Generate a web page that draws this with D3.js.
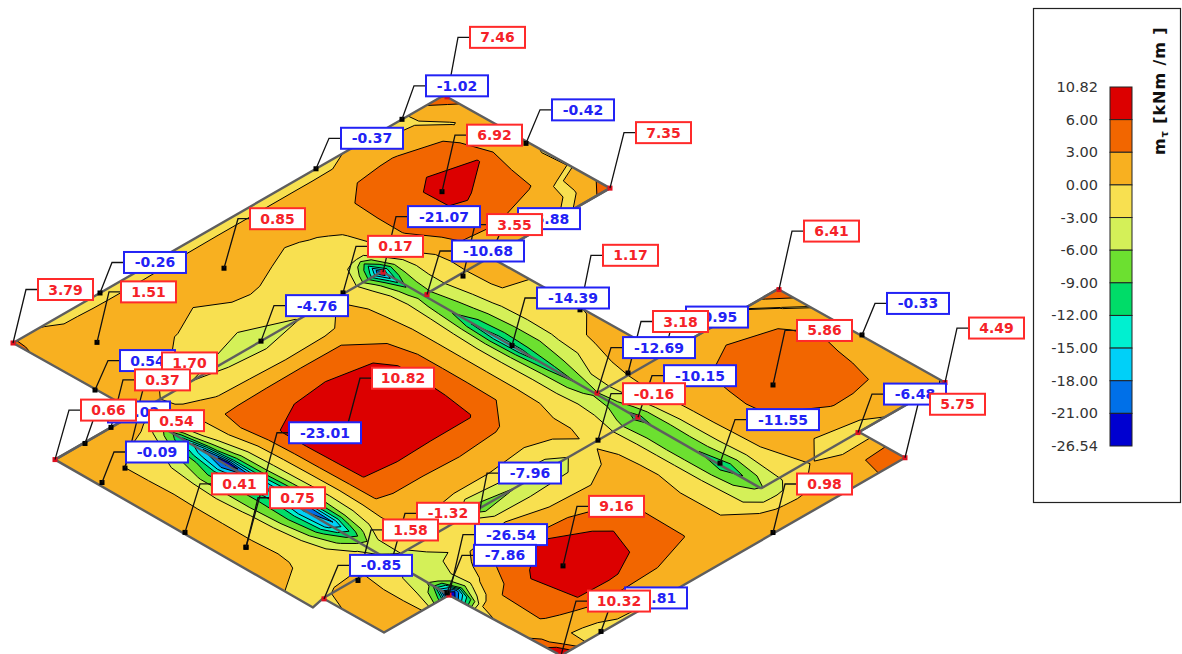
<!DOCTYPE html>
<html><head><meta charset="utf-8">
<style>html,body{margin:0;padding:0;background:#fff}svg{display:block}</style>
<script src="https://cdn.jsdelivr.net/npm/d3@7/dist/d3.min.js"></script>
</head><body><svg id="c" width="1182" height="654"></svg>
<script>
// ---- legend
const legendTicks=["10.82","6.00","3.00","0.00","-3.00","-6.00","-9.00","-12.00","-15.00","-18.00","-21.00","-26.54"];
const bandColors=["#DC0000","#F26600","#F8B020","#F8E050","#D4F058","#6CE030","#00DC68","#00F0D0","#00D0F8","#0070E8","#0000D0"];
const levels=[6,3,0,-3,-6,-9,-12,-15,-18,-21];
// ---- plate coordinates of the sampled moment field
const uKnots=[-90,-57,-35,-27,-15,-7,0,6,12,20,30,42,55,85,120,160,195,218,230,237,243,250,258,272,290,311,350,390,410,436];
const vKnots=[-5,10,30,50,75,100,124,136,150,166,190,215,240,265,295,320,340,358,382,405,425,443,470,510,535,558];
// ---- field values (kNm/m), one row per vKnot
const r00=[6,6,6,6,6,6,6,2,.5,-.2,-.3,-.4,-.4,-.4,-.4,-.4,-.4,-.4,-.4,-.4,-.4,-.4,-.4,-.4,-.4,-.3,.1,-1,3.5,9];
const r01=[4,4,4,4,4,4,3.5,2.4,1.5,1,.4,.03,.02,-.02,-.02,.02,.03,.03,.03,.03,.03,.03,.03,.03,.03,.03,.4,-.2,.5,5];
const r02=[3,3,3,3,3,3,2.2,2,1.9,1.8,1.7,1.6,1.5,1.4,1.2,1.3,1.4,1.3,1.2,1.2,1.2,1.2,1.2,1.3,1.7,2.8,3.1,2.2,-.1,1];
const r03=[2,2,2,2,2,2,1.9,1.8,1.8,1.8,1.8,1.7,1.5,.9,.2,.9,.5,.1,.2,.3,.4,.5,.6,1.5,2.9,4,5.3,3.8,1.5,1];
const r04=[1.8,1.8,1.8,1.8,1.8,1.8,1.8,1.7,1.7,1.6,1.4,1.1,.7,.05,-.3,.2,-.4,-.6,-.6,-.5,-.5,-.3,-.1,.9,3,5,6.6,6.1,2,.3];
const r05=[1.7,1.7,1.7,1.7,1.7,1.7,1.7,1.6,1.5,1.3,.9,.4,.05,-.8,-2.6,-1.8,-1,-1.4,-1.8,-2.2,-2.7,-2.9,-.8,.4,3.1,5.3,6.4,4.5,1,-.4];
const r06=[1.7,1.7,1.7,1.7,1.7,1.7,1.7,1.2,.7,.2,-.4,-1.5,-3,-4.2,-4.76,-3.1,-.4,-2.3,-8,-14,-21.07,-12,-5.5,-1,1.8,3.5,4.3,3.5,1,-.3];
const r07=[2.5,2.5,2.5,2.2,1.5,.5,-.5,.5,.8,.3,-.2,-.8,-1.7,-2,-2.5,-1,.3,-1.5,-5,-9,-14,-9,-5,-2,.5,3.1,3.6,.8,-.3,1.5];
const r08=[2.5,1,.3,-.3,-1.5,-4,-6,-3,-.8,.2,.5,.4,-.1,-.3,-.6,-.4,.8,-1,-3.5,-6.5,-9,-7,-4.5,-1.8,.2,2,2,.2,-.2,3.4];
const r09=[2.5,.1,-.8,-1.6,-4,-8,-11,-5,-2,-.5,.5,2.8,2.8,2.8,2.8,2.8,1.2,-1.1,-3.2,-5.5,-7,-6.3,-4.5,-1.7,.3,1,.8,-.2,.8,8];
const r10=[2.5,.3,-2.3,-4,-8,-14,-18,-8,-4,-1.5,1.2,4,4.4,5,5.5,5,2.1,-1.3,-3.5,-6.5,-8,-7.5,-5.5,-2.5,.3,.5,.5,.5,.5,.5];
const r11=[2.5,.5,-3,-6.3,-11,-18,-23.01,-11,-6.5,-3,0,3.4,6.2,9,10.82,7.5,2.2,-1.4,-4,-8,-12,-9,-6.5,-3.2,-.5,-.3,-.3,-.3,-.3,-.3];
const r12=[2.5,.3,-3.3,-6.3,-10,-15,-18,-11,-6.5,-3.2,-.2,3.2,6.3,8.5,10,7.4,2.2,-1.5,-4.5,-9,-13.8,-9.5,-7,-3.3,-1,-.3,-.3,-.3,-.3,-.3];
const r13=[2.2,.2,-3.1,-6.5,-10,-14,-16,-12,-7,-3.3,-.3,3.2,6.2,8.2,9,7,2.2,-1.6,-4.5,-8.5,-13.5,-9,-7,-3.2,-.8,.1,.1,.1,.1,.1];
const r14=[2,.1,-2.7,-6,-11,-17,-20,-12,-7,-3.5,-.3,3.1,6.1,6.5,6.3,6.3,2.2,-1.7,-4.2,-7.5,-10.5,-7.5,-5.5,-2.5,.5,1,1,1,1,1];
const r15=[1.5,.2,-2,-4.5,-10,-16,-18,-11,-6,-3,0,3.1,3.4,3.5,3.7,3.3,1.7,-1.6,-4.5,-7,-9,-6,-3,-.5,.8,.5,.5,.5,.5,.5];
const r16=[.9,-.1,-1.3,-3,-6.5,-9,-10.5,-7,-4,-2,.5,1.5,1.8,1.5,1.5,1.3,.5,-1.6,-4,-5.5,-6.5,-4.5,-2.5,-.2,1,1,1.5,-.1,3.5,7];
const r17=[.05,-.5,-.8,-1.3,-2.8,-4,-4.8,-3.2,-1.8,-.8,.2,.4,.3,-.2,-.2,-.8,.5,-1.8,-4.5,-6,-7,-5,-2.8,-.1,1.3,1.8,2.6,1.8,-.1,4.5];
const r18=[-.4,.1,.3,-.3,-1.5,-2,-2.5,-3,-3,-2.5,-1,-.5,-1.2,-7.96,-6,-4.6,-.4,-3,-6.8,-8.5,-10.15,-7,-3.5,-.3,1.5,2.8,4.5,3.5,1.5,-.1];
const r19=[-.8,.8,.1,-1,-3,-4,-5,-4.5,-4,-3.5,-3,-1,-.5,-.1,-1.5,-1.8,.9,-2.8,-6.3,-7.5,-8,-6.8,-4,-.5,2,3,5,4.6,2.5,.3];
const r20=[1.5,1.5,.1,-1.5,-4.5,-6.5,-6,-5,-3.2,-1.5,-.4,1,.8,.9,1.2,1,1.2,-2.8,-6.5,-7.5,-8,-6.5,-4,-.5,1.8,3.2,5,3.6,2.4,.3];
const r21=[2,2,.5,-3,-10,-26.54,-20,-8,-4,-.5,1,3.2,3.8,6.3,4.5,1.8,1.3,-2.8,-6.5,-8,-9,-6.5,-4,-.5,1.5,3.1,5,3.5,2,-.3];
const r22=[2,2,2,2,2,-1.5,.1,1,2,3.1,4,5.2,7,9.16,7,3.2,.3,-2.8,-6.5,-9,-11.55,-7.5,-4.5,-.5,1.2,1.5,3.1,2.9,1.5,.3];
const r23=[1.5,1.5,1.5,1.5,1.5,1.5,1.5,2,2.5,3.3,4,5,6.05,6.2,5.5,3.1,.3,-2.5,-5.5,-5.5,-5.5,-5,-3.2,-.5,.1,-1.5,-1.5,1.5,2.5,5];
const r24=[8,8,8,8,8,5.5,3.5,1,.1,.1,.2,.4,1,1.2,1.2,1.2,1,.9,.5,.3,.2,.1,.2,.5,.8,2.9,3.5,3.5,3.5,3.5];
const r25=[11,11,11,11,11,11,10.32,6.5,3.5,-.6,-.8,-.81,-.6,-.5,-.3,.1,1,1,1,1,1,1,1,1.3,2,3,7.35,7,7,7];
const fieldRows=[r00,r01,r02,r03,r04,r05,r06,r07,r08,r09,r10,r11,r12,r13,r14,r15,r16,r17,r18,r19,r20,r21,r22,r23,r24,r25];
// ---- plate outline and support lines, plate coordinates
const outline=[[-82,124],[0,124],[0,0],[431,0],[431,166],[311,166],[311,340],[425,340],[425,507],[339,507],[339,553],[-5,553],[-7,443],[-72,443],[-72,382],[-85,385]];
const supports=[[[0,124],[-7,443]],[[-82,124],[245,124]],[[245,166],[431,166]],[[-72,382],[243,382]],[[243,340],[425,340]],[[241,507],[425,507]],[[245,124],[241,507]]];
// ---- value labels: text, side (r/b), anchor in plate coordinates, box offset from the anchor, node colour
const labelTexts=["7.46","-1.02","-0.42","7.35","6.92","-0.37","0.85","3.79","-0.26","1.51","0.54","1.70","0.37","-0.02","0.66","0.54","-0.09","-4.76","0.17","-21.07","-6.88","3.55","-10.68","1.17","-14.39","3.18","-0.95","-12.69","-10.15","-0.16","-11.55","6.41","5.86","-0.33","4.49","-6.48","5.75","0.98","-7.96","9.16","-1.32","1.58","-26.54","-7.86","10.32","-0.81","0.41","0.75","-23.01","10.82","-0.85"];
const labelTone="rbbrrbrrbrbrrbrrbbrbbrbrbrbbbrbrrbrbrrbrrrbbrbrrbrb".split("");
const labelAnchors=[[431,3],[389,0],[429,84],[431,166],[345,84],[303,0],[170,41],[0,0],[87,0],[42,42],[-1,83],[0,124],[-26,124],[-53,125],[-82,124],[-55,167],[-79,168],[124,124],[207,123],[245,125],[311,166],[281,169],[247,167],[309,258],[244,255],[277,338],[311,340],[244,340],[243,382],[203,382],[243,464],[425,341],[338,422],[426,423],[425,507],[338,507],[339,553],[208,552],[69,395],[75,475],[-4,383],[-39,384],[-7,443],[-6,440],[-5,553],[36,552],[-82,254],[-65,298],[-65,298],[83,249],[-72,383]];
const labelOffsets=[[23,-70],[24,-44],[26,-44],[26,-66],[25,-67],[25,-41],[26,-60],[25,-64],[24,-41],[24,-61],[25,-40],[25,-60],[24,-58],[23,-42],[26,-60],[24,-58],[24,-41],[25,-46],[25,-57],[25,-66],[28,-49],[24,-62],[25,-54],[23,-65],[25,-58],[25,-62],[22,-48],[26,-56],[26,-52],[25,-57],[27,-54],[25,-69],[24,-65],[25,-42],[24,-65],[26,-49],[25,-64],[24,-59],[22,-62],[26,-70],[25,-57],[25,-61],[26,-71],[27,-48],[27,-65],[24,-44],[27,-59],[24,-60],[43,-125],[27,-67],[26,-44]];
const redNodes=[3,7,14,19,22,27,28,31,34,35,36,42,44,50,0];

const FONT='"DejaVu Sans",sans-serif';
const svg=d3.select("#c");
fieldRows.forEach((r,i)=>{if(r.length!==uKnots.length)throw new Error("row "+i+" len "+r.length)});

// plate projection built from linear scales
const sx=d3.scaleLinear().domain([0,1]).range([13,14]);
const uy=d3.scaleLinear().domain([0,1]).range([343,342.425]);
const vy=d3.scaleLinear().domain([0,1]).range([0,.56]);
const project=(u,v)=>[sx(u+v),uy(u)+vy(v)];
const line=d3.line().x(d=>project(d[0],d[1])[0]).y(d=>project(d[0],d[1])[1]);

const defs=svg.append("defs");
defs.append("clipPath").attr("id","plate").append("path").attr("d",line(outline)+"Z");

// contour bands
const n=uKnots.length,m=vKnots.length;
const values=fieldRows.flat();
const gridU=d3.scaleLinear().domain(uKnots.map((_,i)=>i+.5)).range(uKnots);
const gridV=d3.scaleLinear().domain(vKnots.map((_,i)=>i+.5)).range(vKnots);
const thresholds=[-100,...levels.slice().reverse()];
const color=d3.scaleThreshold().domain(levels.slice().reverse()).range(bandColors.slice().reverse());
const bands=d3.contours().size([n,m]).thresholds(thresholds)(values);
const ringPath=r=>"M"+r.map(p=>project(gridU(p[0]),gridV(p[1])).map(x=>x.toFixed(1)).join(",")).join("L")+"Z";
const gPlate=svg.append("g").attr("clip-path","url(#plate)");
gPlate.selectAll("path").data(bands).join("path")
 .attr("d",b=>b.coordinates.map(poly=>poly.map(ringPath).join("")).join(""))
 .attr("fill",b=>color(b.value+.001))
 .attr("fill-rule","evenodd")
 .attr("stroke","#000").attr("stroke-width",1).attr("stroke-linejoin","round");

// supports and outline
svg.append("g").selectAll("path").data(supports).join("path").attr("d",d=>line(d)).attr("fill","none").attr("stroke","#5e5e5e").attr("stroke-width",2.4);
svg.append("path").attr("d",line(outline)+"Z").attr("fill","none").attr("stroke","#5e5e5e").attr("stroke-width",2.4).attr("stroke-linejoin","round");

// labels
const items=labelTexts.map((t,i)=>{
  const [ax,ay]=project(labelAnchors[i][0],labelAnchors[i][1]);
  const w=t.length<=4?55:(t.length==5?62:72);
  return {t,i,tone:labelTone[i],ax,ay,x:ax+labelOffsets[i][0],y:ay+labelOffsets[i][1],w,h:21};
});
const redSet=new Set(redNodes);
const gDots=svg.append("g");
gDots.selectAll("rect").data(items).join("rect")
 .attr("x",d=>d.ax-2.5).attr("y",d=>d.ay-2.5).attr("width",5).attr("height",5)
 .attr("fill",d=>redSet.has(d.i)?"#E01020":"#000");
svg.append("g").selectAll("path").data(items).join("path")
 .attr("d",d=>`M${d.ax},${d.ay}L${d.x-12},${d.y+d.h/2}L${d.x},${d.y+d.h/2}`)
 .attr("fill","none").attr("stroke","#111").attr("stroke-width",1.3);
const ordered=items.filter(d=>d.tone=="b").concat(items.filter(d=>d.tone=="r"));
const gLab=svg.append("g").selectAll("g").data(ordered).join("g");
gLab.append("rect").attr("x",d=>d.x).attr("y",d=>d.y).attr("width",d=>d.w).attr("height",d=>d.h)
 .attr("fill","#fff").attr("stroke",d=>d.tone=="r"?"#FF2A2A":"#2222F5").attr("stroke-width",2);
gLab.append("text").attr("x",d=>d.x+d.w/2).attr("y",d=>d.y+15.5).attr("text-anchor","middle")
 .attr("font-family",FONT).attr("font-weight","bold").attr("font-size",14)
 .attr("fill",d=>d.tone=="r"?"#F52228":"#2222F5").text(d=>d.t);

// legend
svg.append("rect").attr("x",1033.5).attr("y",8.5).attr("width",147).attr("height",494).attr("fill","#fff").attr("stroke","#222").attr("stroke-width",1.2);
const ly=d3.scaleLinear().domain([0,bandColors.length]).range([87,446]);
svg.append("g").selectAll("rect").data(bandColors).join("rect")
 .attr("x",1110).attr("width",22).attr("y",(d,i)=>ly(i)).attr("height",(d,i)=>ly(i+1)-ly(i))
 .attr("fill",d=>d).attr("stroke","#222").attr("stroke-width",1);
svg.append("g").selectAll("text").data(legendTicks).join("text")
 .attr("x",1098).attr("y",(d,i)=>ly(i)+5).attr("text-anchor","end")
 .attr("font-family",FONT).attr("font-size",14.5).attr("fill","#333").text(d=>d);
const title=svg.append("text").attr("transform","translate(1165,155) rotate(-90)")
 .attr("font-family",FONT).attr("font-weight","bold").attr("font-size",16).attr("letter-spacing",.9).attr("fill","#111");
title.append("tspan").text("m");
title.append("tspan").attr("font-size",10).attr("dy",3).text("τ");
title.append("tspan").attr("dy",-3).text(" [kNm /m ]");
</script></body></html>
